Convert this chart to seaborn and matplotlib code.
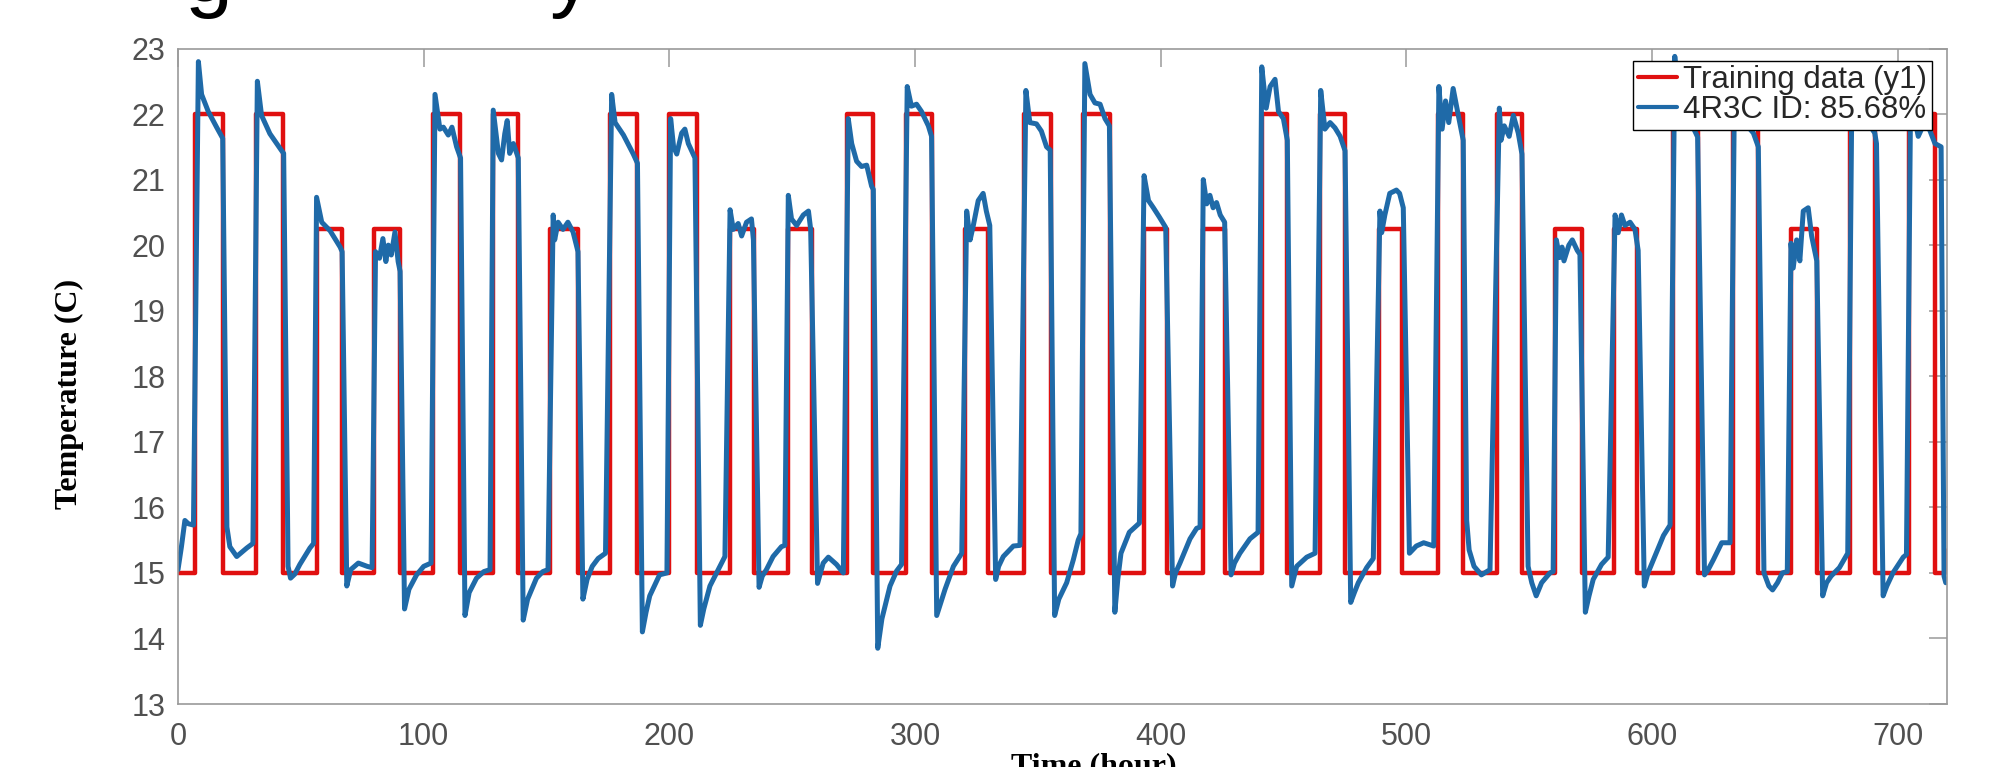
import matplotlib
matplotlib.use("Agg")
import pandas as pd
import matplotlib.pyplot as plt
import seaborn as sns

# Setpoint schedule (Training data y1): heating on/off hours per day and setpoint
on_hours = [7.0, 31.7, 56.5, 79.8, 103.9, 128.1, 151.4, 175.8, 200.0, 224.8,
            248.4, 272.2, 296.3, 320.3, 344.3, 368.5, 393.0, 417.0, 441.0, 464.8,
            489.0, 513.0, 536.7, 560.4, 584.6, 608.6, 632.8, 656.5, 680.5, 704.6]
off_hours = [18.5, 42.6, 66.6, 90.4, 114.8, 138.5, 162.7, 186.9, 211.1, 234.4,
             257.9, 283.0, 307.0, 329.8, 355.2, 379.3, 402.4, 426.1, 451.2, 475.0,
             498.0, 523.1, 546.9, 571.3, 593.7, 618.8, 643.2, 667.0, 690.7, 715.1]
setpoints = [22, 22, 20.25, 20.25, 22, 22, 20.25, 22, 22, 20.25,
             20.25, 22, 22, 20.25, 22, 22, 20.25, 20.25, 22, 22,
             20.25, 22, 22, 20.25, 20.25, 22, 22, 20.25, 22, 22]
setback_temp = 15.0

# 4R3C model output (one line per day)
model_hours = [
    0, 1.4, 2.8, 4.2, 6.3, 8.3, 9.6, 12.3, 15.7, 18.2, 19.9, 21.1, 23.9, 28.0, 30.5,
    32.3, 34.0, 37.4, 42.2, 43.0, 44.8, 45.8, 47.5, 49.6, 53.7, 55.2,
    56.4, 58.5, 61.9, 66.0, 66.8, 68.7, 70.3, 73.4, 77.0, 79.0,
    80.4, 82.0, 83.4, 84.6, 85.6, 86.8, 88.3, 89.6, 90.4, 92.2, 94.0, 97.1, 100.0, 103.0,
    104.6, 106.6, 108.0, 110.0, 111.5, 113.4, 115.0, 116.8, 118.5, 121.5, 124.5, 127.0,
    128.3, 130.4, 131.7, 133.0, 134.0, 135.0, 136.5, 138.5, 140.5, 142.3, 145.9, 148.5, 150.6,
    152.7, 153.3, 154.7, 156.7, 158.7, 160.8, 162.8, 164.8, 166.5, 168.6, 171.0, 174.0,
    176.5, 177.9, 181.3, 185.3, 187.0, 189.0, 190.5, 192.0, 196.0, 199.0,
    200.5, 201.7, 203.0, 205.0, 206.3, 207.7, 210.4, 212.6, 214.0, 216.5, 220.6, 222.6,
    224.7, 226.0, 228.0, 229.4, 231.4, 233.4, 234.2, 236.5, 237.8, 239.5, 242.2, 245.6, 247.0,
    248.4, 249.7, 251.8, 254.5, 256.6, 257.5, 260.3, 261.5, 262.6, 264.7, 268.0, 270.8,
    272.8, 274.2, 276.2, 278.2, 280.3, 282.3, 283.0, 284.8, 286.5, 289.8, 292.5, 294.5,
    296.8, 298.5, 300.6, 302.6, 305.4, 306.7, 308.8, 310.5, 312.2, 315.6, 319.0,
    321.0, 322.4, 323.7, 325.7, 327.7, 329.0, 330.4, 332.8, 334.0, 335.9, 340.0, 342.7,
    345.1, 346.7, 349.4, 351.4, 353.5, 355.0, 356.8, 358.5, 361.7, 364.4, 366.4, 367.5,
    369.1, 371.2, 373.2, 375.3, 377.3, 379.1, 381.3, 382.5, 383.8, 387.2, 391.3,
    393.2, 395.0, 397.0, 399.4, 402.0, 404.8, 406.0, 407.8, 411.9, 414.6, 416.0,
    417.3, 418.7, 420.0, 421.3, 422.7, 424.2, 426.0, 428.6, 430.0, 432.2, 436.3, 439.6,
    441.1, 442.9, 444.5, 446.5, 447.9, 449.9, 451.5, 453.3, 455.3, 459.4, 462.8,
    465.1, 466.8, 468.9, 470.9, 473.0, 475.0, 477.3, 478.8, 480.4, 483.8, 486.5,
    489.2, 489.9, 491.2, 493.2, 495.9, 497.2, 498.7, 501.2, 502.5, 504.0, 507.0, 511.1,
    513.2, 514.5, 515.9, 517.2, 519.0, 521.1, 523.1, 524.5, 525.5, 527.5, 530.5, 534.0,
    537.8, 538.5, 539.8, 541.8, 543.5, 545.5, 547.0, 549.5, 551.0, 552.8, 555.0, 558.4, 559.7,
    561.0, 562.3, 563.3, 564.1, 566.1, 567.5, 569.5, 570.6, 572.8, 574.3, 576.0, 579.4, 582.1,
    584.9, 586.2, 587.5, 588.9, 591.0, 593.0, 594.3, 596.8, 598.3, 600.5, 604.6, 607.3,
    609.2, 610.5, 613.0, 616.0, 618.5, 621.3, 622.8, 624.9, 628.3, 631.7,
    633.5, 635.0, 638.0, 641.2, 643.2, 645.5, 647.5, 649.0, 651.0, 653.0, 655.0,
    656.5, 657.4, 658.8, 660.1, 661.5, 663.5, 664.9, 667.0, 669.4, 671.0, 672.8, 676.2, 679.6,
    681.3, 683.0, 686.0, 689.0, 690.6, 691.3, 694.0, 695.5, 698.0, 702.2, 703.5,
    705.2, 707.0, 708.3, 710.0, 712.5, 715.1, 717.6, 718.8, 719.5, 720.0,
]
model_temp = [
    15.05, 15.4, 15.8, 15.75, 15.73, 22.8, 22.3, 22.04, 21.8, 21.63, 15.7, 15.4, 15.25, 15.38, 15.45,
    22.5, 21.98, 21.7, 21.44, 21.4, 15.1, 14.92, 14.98, 15.13, 15.38, 15.45,
    20.73, 20.35, 20.22, 19.97, 19.9, 14.8, 15.05, 15.15, 15.1, 15.08,
    19.9, 19.8, 20.1, 19.75, 20.0, 19.85, 20.2, 19.75, 19.6, 14.45, 14.75, 14.97, 15.1, 15.15,
    22.3, 21.77, 21.8, 21.68, 21.8, 21.5, 21.33, 14.35, 14.7, 14.92, 15.02, 15.05,
    22.06, 21.4, 21.3, 21.7, 21.9, 21.4, 21.55, 21.33, 14.28, 14.6, 14.92, 15.02, 15.05,
    20.46, 20.08, 20.35, 20.24, 20.35, 20.2, 19.9, 14.6, 14.9, 15.1, 15.22, 15.3,
    22.3, 21.87, 21.68, 21.39, 21.25, 14.1, 14.4, 14.65, 14.97, 15.0,
    21.93, 21.5, 21.39, 21.71, 21.77, 21.55, 21.33, 14.2, 14.45, 14.8, 15.1, 15.25,
    20.54, 20.24, 20.33, 20.14, 20.35, 20.4, 20.08, 14.78, 14.95, 15.05, 15.25, 15.4, 15.42,
    20.76, 20.4, 20.3, 20.46, 20.52, 20.24, 14.84, 15.0, 15.15, 15.24, 15.13, 15.0,
    21.93, 21.55, 21.28, 21.2, 21.22, 20.9, 20.85, 13.85, 14.3, 14.8, 15.03, 15.13,
    22.42, 22.12, 22.15, 22.04, 21.82, 21.66, 14.35, 14.55, 14.75, 15.1, 15.3,
    20.52, 20.08, 20.3, 20.68, 20.79, 20.52, 20.3, 14.9, 15.1, 15.25, 15.41, 15.42,
    22.36, 21.87, 21.85, 21.74, 21.5, 21.45, 14.35, 14.6, 14.85, 15.2, 15.5, 15.6,
    22.77, 22.3, 22.17, 22.15, 21.93, 21.82, 14.4, 14.9, 15.3, 15.62, 15.76,
    21.06, 20.68, 20.57, 20.43, 20.27, 14.8, 15.0, 15.15, 15.52, 15.68, 15.7,
    21.0, 20.63, 20.76, 20.57, 20.65, 20.46, 20.35, 14.97, 15.15, 15.3, 15.52, 15.62,
    22.72, 22.09, 22.42, 22.53, 22.04, 21.93, 21.6, 14.8, 15.1, 15.24, 15.3,
    22.36, 21.77, 21.87, 21.79, 21.66, 21.44, 14.55, 14.7, 14.85, 15.08, 15.22,
    20.52, 20.19, 20.46, 20.79, 20.84, 20.79, 20.57, 15.3, 15.35, 15.41, 15.46, 15.41,
    22.42, 21.77, 22.2, 21.87, 22.39, 21.98, 21.6, 15.8, 15.35, 15.1, 14.97, 15.05,
    22.09, 21.6, 21.82, 21.66, 21.98, 21.71, 21.39, 15.1, 14.85, 14.65, 14.85, 15.0, 15.02,
    20.08, 19.81, 19.97, 19.76, 20.0, 20.08, 19.92, 19.86, 14.4, 14.65, 14.9, 15.13, 15.24,
    20.46, 20.19, 20.46, 20.3, 20.35, 20.24, 19.92, 14.8, 15.0, 15.2, 15.57, 15.73,
    22.88, 22.2, 22.0, 21.85, 21.65, 14.97, 15.05, 15.2, 15.46, 15.46,
    22.4, 22.0, 21.85, 21.71, 21.5, 15.0, 14.8, 14.74, 14.85, 15.0, 15.02,
    20.03, 19.65, 20.08, 19.76, 20.52, 20.57, 20.14, 19.76, 14.65, 14.85, 14.95, 15.08, 15.3,
    22.4, 22.0, 21.9, 21.8, 21.71, 21.55, 14.65, 14.8, 15.0, 15.24, 15.28,
    22.3, 21.9, 21.66, 21.8, 21.8, 21.55, 21.5, 14.95, 14.85, 14.86,
]
assert len(model_hours) == len(model_temp)

x_ticks = [0, 100, 200, 300, 400, 500, 600, 700]
y_ticks = [13, 14, 15, 16, 17, 18, 19, 20, 21, 22, 23]

# build the square wave of the training data
red_t, red_y = [0.0], [setback_temp]
for t_on, t_off, sp in zip(on_hours, off_hours, setpoints):
    red_t += [t_on, t_on, t_off, t_off]
    red_y += [setback_temp, sp, sp, setback_temp]
red_t += [719.2, 719.2]
red_y += [setback_temp, 15.35]

train_df = pd.DataFrame({"hour": red_t, "temp": red_y})
model_df = pd.DataFrame({"hour": model_hours, "temp": model_temp})

sns.set_style("white")
plt.rcParams["font.family"] = ["Liberation Sans", "DejaVu Sans"]

fig = plt.figure(figsize=(19.9, 7.67), dpi=100)
ax = fig.add_axes([178 / 1990, 1 - 704 / 767, (1947 - 178) / 1990, (704 - 48.5) / 767])

sns.lineplot(data=train_df, x="hour", y="temp", sort=False, estimator=None,
             color="#e01010", linewidth=3.2, label="Training data (y1)", ax=ax)
sns.lineplot(data=model_df, x="hour", y="temp", sort=False, estimator=None,
             color="#1f6aa8", linewidth=3.6, label="4R3C ID: 85.68%", ax=ax)

ax.set_xlim(0, 720)
ax.set_ylim(13, 23)
ax.set_xticks(x_ticks)
ax.set_yticks(y_ticks)
ax.set_xlabel("")
ax.set_ylabel("")
for s in ax.spines.values():
    s.set_color("#9a9a9a")
    s.set_linewidth(1.2)
ax.tick_params(axis="both", direction="in", length=13, width=1.1, color="#9a9a9a",
               labelcolor="#505050", labelsize=22, top=True, right=True)
ax.tick_params(axis="x", pad=13)
ax.tick_params(axis="y", pad=9)

leg = ax.legend(loc="upper right", bbox_to_anchor=(0.9915, 0.9814), borderaxespad=0,
                fontsize=22.5, frameon=True, fancybox=False, framealpha=1,
                edgecolor="black", handlelength=1.25, handletextpad=0.2,
                borderpad=0.15, labelspacing=0.0)
leg.get_frame().set_linewidth(1.0)
for line in leg.get_lines():
    line.set_linewidth(3)

fig.text(69 / 1990, 1 - 394 / 767, "Temperature (C)", rotation=90, ha="center", va="center",
         fontsize=23, fontweight="bold", family="Liberation Serif", color="black")
fig.text(1094 / 1990, 1 - 752 / 767, "Time (hour)", ha="center", va="top",
         fontsize=23, fontweight="bold", family="Liberation Serif", color="black")

# bottom of the cropped title line
fig.text(184 / 1990, 1 - 1 / 767, "g", ha="left", va="baseline", fontsize=62, color="black")
fig.text(550 / 1990, 1 - 1 / 767, "y", ha="left", va="baseline", fontsize=62, color="black")

fig.savefig("out.png", dpi=100)
